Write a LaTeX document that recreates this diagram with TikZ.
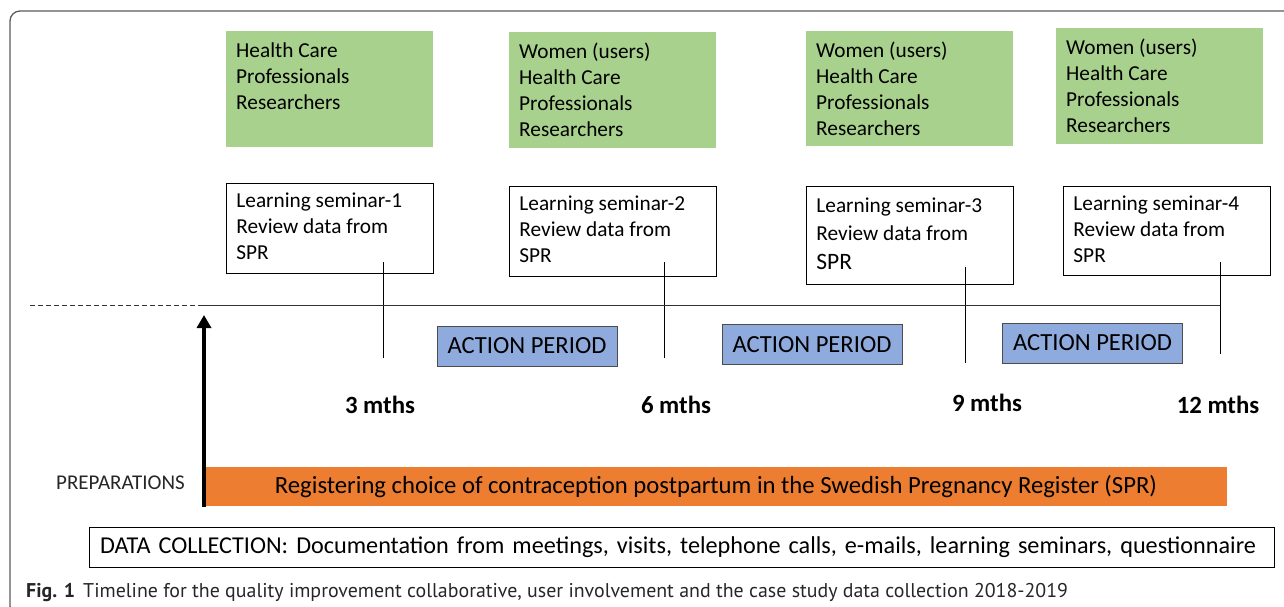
\documentclass[tikz,border=0pt]{standalone}
\usepackage{fontspec}
\setmainfont{Carlito}
\newfontfamily\capfont{PT Sans}
\usetikzlibrary{
    arrows.meta,
    positioning
}
\definecolor{boxgreen}{HTML}{A9D18E}
\definecolor{boxblue}{HTML}{8FAADC}
\definecolor{barorange}{HTML}{ED7D31}
\definecolor{framegray}{HTML}{5A5A5A}
\tikzset{
    greenbox/.style = {
        rectangle,
        fill=boxgreen,
        anchor=north west,
        inner xsep=10pt,
        inner ysep=8pt,
        font=\fontsize{21.3}{26}\selectfont
    },
    seminar/.style = {
        rectangle,
        draw,
        line width=0.9pt,
        anchor=north west,
        inner xsep=10pt,
        inner ysep=6pt,
        font=\fontsize{21.3}{26}\selectfont
    },
    action/.style = {
        rectangle,
        draw=black!70,
        line width=0.9pt,
        fill=boxblue,
        minimum width=180pt,
        minimum height=40pt,
        inner sep=0pt,
        font=\fontsize{24.6}{28}\selectfont
    },
    months/.style = {
        inner sep=0pt,
        font=\bfseries\fontsize{24.8}{28}\selectfont
    },
    tick/.style = {
        line width=0.9pt
    },
    arrow/.style = {
        -{Triangle[width=14pt,length=13pt]},
        line width=3.5pt
    }
}
\newcommand{\boxlines}[2]{\parbox[c][#1][t]{187pt}{\strut #2}}

\begin{document}
\begin{tikzpicture}[x=1pt,y=1pt]
\useasboundingbox (0,0) rectangle (1284,-607);
\begin{scope}
    \clip (0,0) rectangle (1284,-607);
    \draw[framegray, line width=1.3pt, rounded corners=10pt]
        (10,-11) rectangle (1300,-616);
\end{scope}

% groups taking part
\node[greenbox] (g1) at (226,-31)
    {\boxlines{100pt}{Health Care\\Professionals\\Researchers}};
\node[greenbox] (g2) at (509,-32)
    {\boxlines{100pt}{Women (users)\\Health Care\\Professionals\\Researchers}};
\node[greenbox] (g3) at (806,-31)
    {\boxlines{99pt}{Women (users)\\Health Care\\Professionals\\Researchers}};
\node[greenbox] (g4) at (1056,-28)
    {\boxlines{100pt}{Women (users)\\Health Care\\Professionals\\Researchers}};

% learning seminars
\node[seminar] (s1) at (226,-183)
    {\boxlines{78pt}{Learning seminar-1\\Review data from\\SPR}};
\node[seminar] (s2) at (509,-186)
    {\boxlines{78pt}{Learning seminar-2\\Review data from\\SPR}};
\node[seminar, font=\fontsize{21.3}{28.5}\selectfont] (s3) at (806,-186)
    {\boxlines{86pt}{Learning seminar-3\\Review data from\\{\fontsize{23.5}{28.5}\selectfont SPR}}};
\node[seminar] (s4) at (1063,-186)
    {\boxlines{77pt}{Learning seminar-4\\Review data from\\SPR}};

% timeline
\coordinate (far) at (30,-305.5);
\coordinate (start) at (203,-305.5);
\foreach \i/\x/\top/\bot in {1/383/262/358, 2/664/262/358, 3/965/267/363, 4/1220/262/354} {
    \coordinate (t\i) at (\x,-\top);
    \coordinate (b\i) at (\x,-\bot);
    \draw[tick] (t\i) -- (b\i);
}
\draw[black!80, dashed, dash pattern=on 5pt off 3pt, line width=1pt] (far) -- (start);
\draw[black!80, line width=1.4pt] (start) -- (t4 |- start);

\node[action] (a1) at (527,-346) {ACTION PERIOD};
\node[action] (a2) at (812,-344.5) {ACTION PERIOD};
\node[action] (a3) at (1092.5,-343) {ACTION PERIOD};

\node[months] (m1) at (380,-405) {3 mths};
\node[months] (m2) at (676,-405) {6 mths};
\node[months] (m3) at (987,-403) {9 mths};
\node[months] (m4) at (1218,-405) {12 mths};

% register and data collection
\node[rectangle, fill=barorange, minimum width=1022pt, minimum height=39pt, inner sep=0pt,
    font=\fontsize{24.7}{28}\selectfont] (reg) at (716,-486.5)
    {Registering choice of contraception postpartum in the Swedish Pregnancy Register (SPR)};
\node[anchor=west, inner sep=0pt, text=black!85, font=\fontsize{21}{24}\selectfont]
    (prep) at (56,-483) {PREPARATIONS};

\coordinate (arrowbase) at (204,-507);
\coordinate (arrowtip) at (204,-315);
\draw[arrow] (arrowbase) -- (arrowtip);

\node[rectangle, draw, line width=0.9pt, text width=1163pt, align=left, inner xsep=11pt,
    minimum height=40pt, font=\fontsize{24.2}{28}\selectfont] (data) at (681.5,-547)
    {DATA COLLECTION: Documentation from meetings, visits, telephone calls, e-mails, learning seminars, questionnaire};

\node[anchor=base west, inner sep=0pt, text=black!85, font=\capfont\fontsize{19.9}{23}\selectfont]
    (caption) at (26,-597)
    {\textbf{Fig. 1}\hspace{8pt}Timeline for the quality improvement collaborative, user involvement and the case study data collection 2018-2019};
\end{tikzpicture}
\end{document}
